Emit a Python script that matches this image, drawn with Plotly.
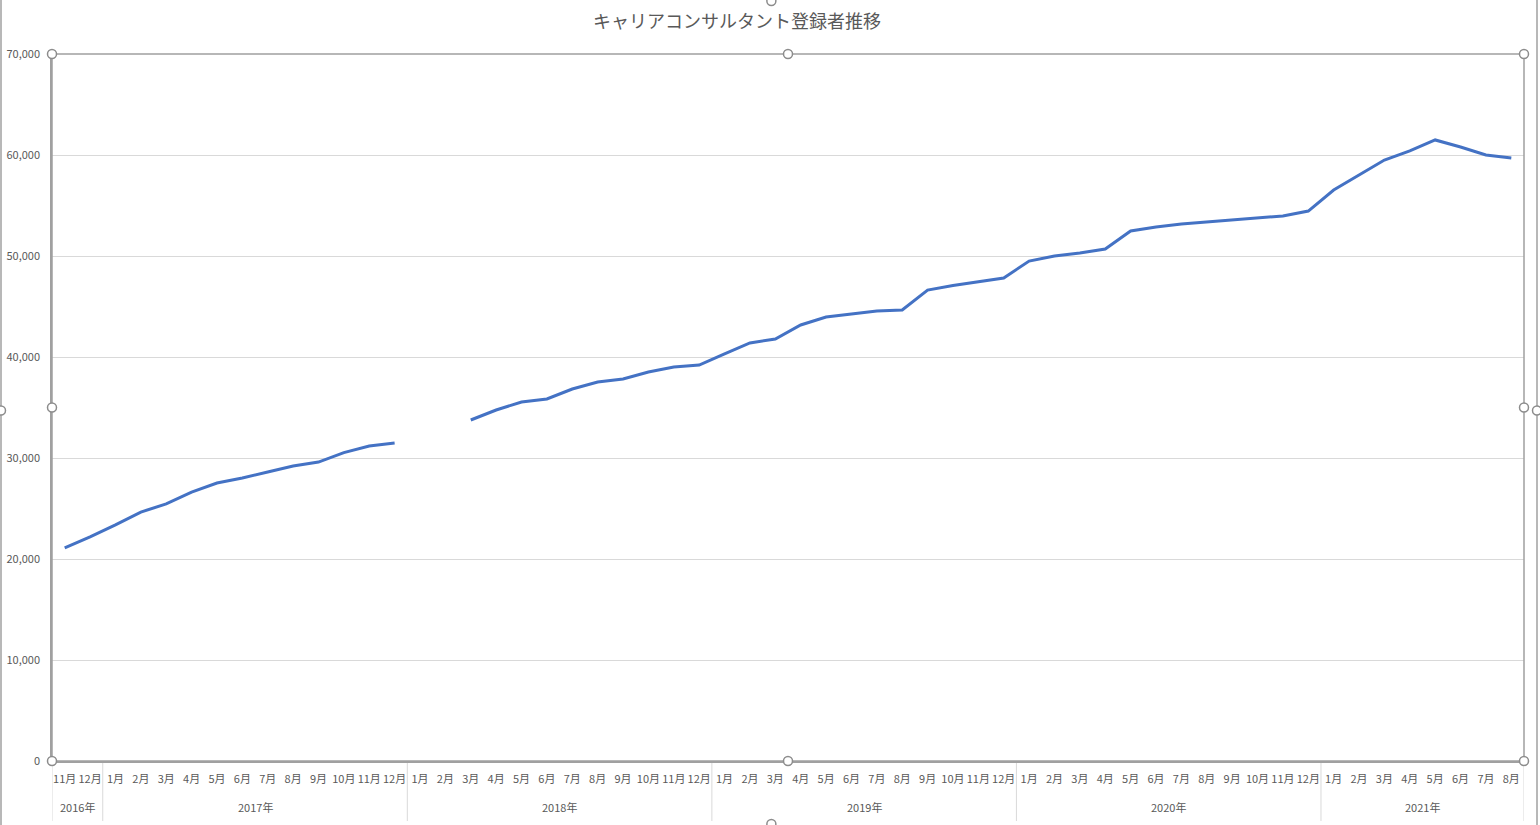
import plotly.graph_objects as go

title_text = "キャリアコンサルタント登録者推移"

year_names = ["2016年", "2017年", "2018年", "2019年", "2020年", "2021年"]
year_month_counts = [2, 12, 12, 12, 12, 8]
years = (["2016年"] * 2 + ["2017年"] * 12 + ["2018年"] * 12 +
         ["2019年"] * 12 + ["2020年"] * 12 + ["2021年"] * 8)
months = (["11月", "12月"] +
          [f"{m}月" for m in range(1, 13)] * 4 +
          [f"{m}月" for m in range(1, 9)])

registrants = [
    21090, 22180,
    23370, 24650, 25450, 26630, 27520, 28020, 28610, 29210, 29600, 30530, 31190, 31490,
    None, None, 33760, 34750, 35540, 35840, 36830, 37520, 37820, 38510, 39000, 39200,
    40300, 41390, 41780, 43170, 43960, 44260, 44550, 44650, 46630, 47080, 47430, 47820,
    49500, 50000, 50300, 50690, 52470, 52870, 53170, 53370, 53560, 53760, 53960, 54450,
    56530, 58020, 59500, 60400, 61490, 60790, 60000, 59700,
]

y_ticks = [0, 10000, 20000, 30000, 40000, 50000, 60000, 70000]

FONT = "Noto Sans CJK JP"
TXT = "#595959"
FRAME = "#a0a0a0"
DIV = "#d9d9d9"

categories = [y + m for y, m in zip(years, months)]

fig = go.Figure()
fig.add_trace(go.Scatter(
    x=categories, y=registrants, mode="lines",
    line=dict(color="#4472C4", width=3), connectgaps=False,
    hoverinfo="x+y",
))

W, H = 1540, 825
ml, mr, mt, mb = 52, 16, 54, 64

fig.update_layout(
    width=W, height=H,
    margin=dict(l=ml, r=mr, t=mt, b=mb),
    paper_bgcolor="white", plot_bgcolor="white",
    showlegend=False,
    font=dict(family=FONT, color=TXT, size=11),
    title=dict(text=title_text, x=737 / W, xanchor="center", xref="container",
               y=1 - 22 / H, yanchor="middle", yref="container",
               font=dict(family=FONT, size=18, color=TXT)),
    xaxis=dict(
        type="category", categoryorder="array", categoryarray=categories,
        range=[-0.5, len(categories) - 0.5],
        tickmode="array", tickvals=categories, ticktext=months, tickangle=0,
        showgrid=False, zeroline=False, automargin=False,
        showline=True, linecolor=FRAME, linewidth=1.5,
        tickfont=dict(family=FONT, size=11, color=TXT),
        ticks="", ticklabelstandoff=7,
    ),
    yaxis=dict(
        range=[0, 70000], tickvals=y_ticks, tickformat=",d",
        showgrid=True, gridcolor=DIV, gridwidth=1, automargin=False,
        zeroline=False, showline=True, linecolor=FRAME, linewidth=1.5,
        tickfont=dict(family=FONT, size=11, color=TXT),
        ticks="", ticklabelstandoff=8,
    ),
)

shapes = []
annotations = []
# year group dividers and labels
start = 0
bounds = [0]
for name, cnt in zip(year_names, year_month_counts):
    annotations.append(dict(text=name, xref="x", yref="paper", x=start + (cnt - 1) / 2,
                            y=0, yshift=-46, showarrow=False, xanchor="center", yanchor="middle",
                            font=dict(family=FONT, size=11, color=TXT)))
    start += cnt
    bounds.append(start)
for b in bounds:
    shapes.append(dict(type="line", xref="x", yref="paper", ysizemode="pixel", yanchor=0,
                       x0=b - 0.5, x1=b - 0.5, y0=0, y1=-60,
                       line=dict(color=DIV, width=1), layer="below"))
# plot-area selection frame
shapes.append(dict(type="rect", xref="paper", yref="paper", x0=0, x1=1, y0=0, y1=1,
                   line=dict(color=FRAME, width=1.5), fillcolor="rgba(0,0,0,0)", layer="above"))
# chart-area frame edges
shapes.append(dict(type="line", xref="paper", yref="paper", xsizemode="pixel", ysizemode="pixel",
                   xanchor=0, yanchor=0.5, x0=-ml + 1, x1=-ml + 1, y0=-H, y1=H,
                   line=dict(color=FRAME, width=1.5), layer="above"))
shapes.append(dict(type="line", xref="paper", yref="paper", xsizemode="pixel", ysizemode="pixel",
                   xanchor=1, yanchor=0.5, x0=mr - 3, x1=mr - 3, y0=-H, y1=H,
                   line=dict(color=FRAME, width=1.5), layer="above"))
# selection handles
r = 4.5
for hx, hy in [(0, 0), (0.5, 0), (1, 0), (0, 0.5), (1, 0.5), (0, 1), (0.5, 1), (1, 1)]:
    shapes.append(dict(type="circle", xref="paper", yref="paper",
                       xsizemode="pixel", ysizemode="pixel", xanchor=hx, yanchor=hy,
                       x0=-r, x1=r, y0=-r, y1=r,
                       line=dict(color="#8c8c8c", width=1.5), fillcolor="white", layer="above"))
for hx, hy, dx, dy in [(0, 0.5, -ml + 1, -3), (1, 0.5, mr - 3, -3), (0.4887, 0, 0, -mb + 1), (0.4887, 1, 0, mt - 1)]:
    shapes.append(dict(type="circle", xref="paper", yref="paper",
                       xsizemode="pixel", ysizemode="pixel", xanchor=hx, yanchor=hy,
                       x0=dx - r, x1=dx + r, y0=dy - r, y1=dy + r,
                       line=dict(color="#8c8c8c", width=1.5), fillcolor="white", layer="above"))
fig.update_layout(shapes=shapes, annotations=annotations)

fig.write_html("out.html", config={"displayModeBar": False},
               post_script="document.body.style.margin='0';")
